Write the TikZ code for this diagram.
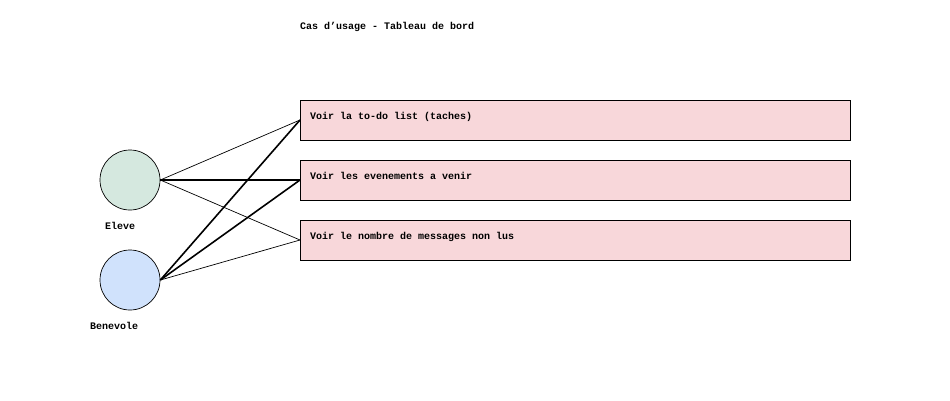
\documentclass[tikz,border=0pt]{standalone}
\usepackage{fontspec}
\setmonofont{Liberation Mono}
\definecolor{elevefill}{HTML}{D5E8DF}
\definecolor{benfill}{HTML}{D0E2FC}
\definecolor{boxfill}{HTML}{F8D7DA}
\begin{document}
\begin{tikzpicture}[x=1pt,y=-1pt,
  lbl/.style={font=\ttfamily\bfseries\fontsize{10}{12}\selectfont, inner sep=0pt, anchor=base west},
  actor/.style={circle, draw=black, line width=0.7pt, minimum size=60pt, inner sep=0pt},
  ucbox/.style={draw=black, line width=0.7pt, fill=boxfill, minimum width=550pt, minimum height=40pt, anchor=north west, inner sep=0pt},
  thinl/.style={line width=0.7pt},
  thickl/.style={line width=1.6pt}]
\useasboundingbox (0,0) rectangle (950,400);
\node[lbl] (title) at (300,29) {Cas d’usage - Tableau de bord};
\node[actor, fill=elevefill] (eleve) at (130,180) {};
\node[actor, fill=benfill] (ben) at (130,280) {};
\node[lbl] (elevel) at (105,229) {Eleve};
\node[lbl] (benl) at (90,329) {Benevole};
\node[ucbox] (b1) at (300,100) {};
\node[ucbox] (b2) at (300,160) {};
\node[ucbox] (b3) at (300,220) {};
\node[lbl] (t1) at (310,119) {Voir la to-do list (taches)};
\node[lbl] (t2) at (310,179) {Voir les evenements a venir};
\node[lbl] (t3) at (310,239) {Voir le nombre de messages non lus};
\draw[thinl] (eleve.east) -- ([yshift=-20pt]b1.north west);
\draw[thickl] (eleve.east) -- ([yshift=-20pt]b2.north west);
\draw[thinl] (eleve.east) -- ([yshift=-20pt]b3.north west);
\draw[thickl] (ben.east) -- ([yshift=-20pt]b1.north west);
\draw[thickl] (ben.east) -- ([yshift=-20pt]b2.north west);
\draw[thinl] (ben.east) -- ([yshift=-20pt]b3.north west);
\end{tikzpicture}
\end{document}
